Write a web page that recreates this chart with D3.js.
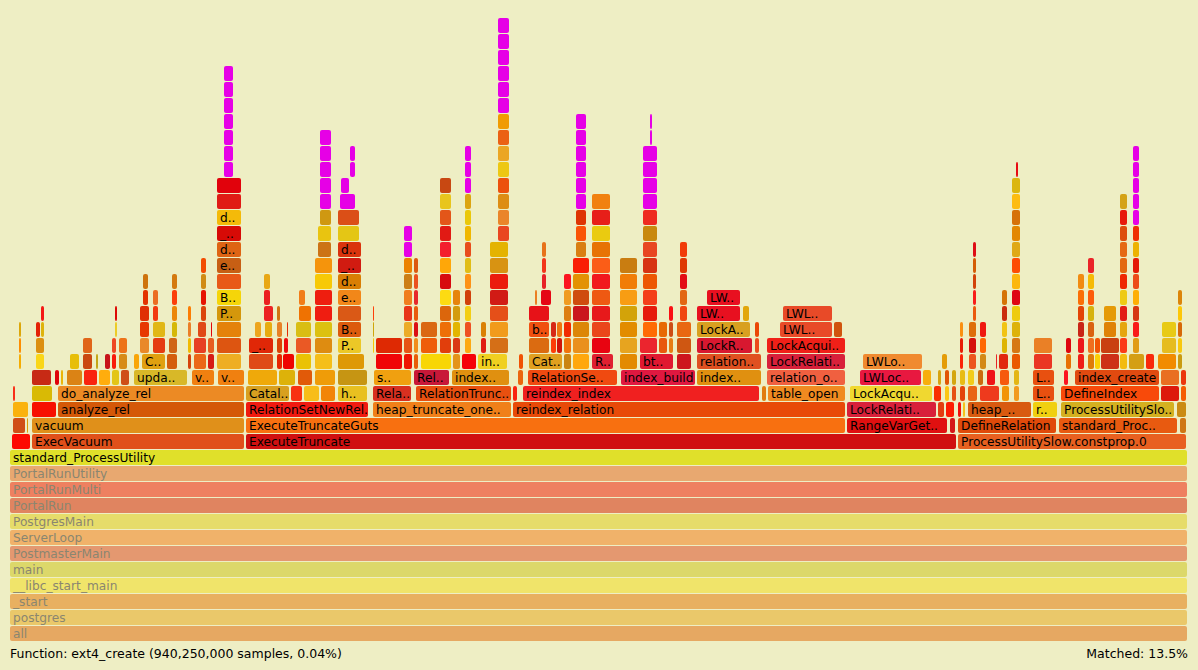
<!DOCTYPE html>
<html><head><meta charset="utf-8">
<script src="https://cdn.jsdelivr.net/npm/d3@7"></script>
<style>body{margin:0;background:#eeeec4;}svg{display:block;font-family:"DejaVu Sans",Verdana,sans-serif;}</style>
</head><body><svg id="c" width="1198" height="670"></svg>
<script>
// Base stack (depth 0..11), faded ancestors of the zoomed frame, full width
const baseNames = ["all","postgres","_start","__libc_start_main","main","PostmasterMain","ServerLoop","PostgresMain","PortalRun","PortalRunMulti","PortalRunUtility","standard_ProcessUtility"];
const baseColors = ["#e6a862","#eac86a","#e8b060","#f0e46a","#dcd86a","#e49870","#f0b26a","#e6dc6a","#e08460","#ee8060","#e8a870","#e0e02a"];
const baseSpan = [10,1188];
// Rows depth 12..16: "start-end:name" in sample offsets
const rows = {
12:"12-31|32-245:ExecVacuum|246-957:ExecuteTruncate|958-1187:ProcessUtilitySlow.constprop.0",
13:"13-26|27-29|32-245:vacuum|246-846:ExecuteTruncateGuts|847-948:RangeVarGet..|950-956|958-1057:DefineRelation|1059-1178:standard_Proc..|1180-1187",
14:"13-29|32-57|58-245:analyze_rel|246-369:RelationSetNewRel..|373-512:heap_truncate_one..|513-846:reindex_relation|847-937:LockRelati..|938-945|946-955|958-962|963-966|968-1032:heap_..|1033-1058:r..|1061-1175:ProcessUtilitySlo..|1177-1187",
15:"13-16|32-53|58-245:do_analyze_rel|246-290:Catal..|291-303|304-320|321-336|338-368:h..|373-412:Rela..|416-512:RelationTrunc..|513-518|523-760:reindex_index|762-767|768-846:table_open|850-933:LockAcqu..|934-942|945-950|952-957|960-966|968-978|980-1000|1002-1010|1014-1020|1033-1055:L..|1061-1160:DefineIndex|1161-1180|1181-1187",
16:"32-52|55-60|61-64|67-83|84-98|99-111|112-120|121-130|134-188:upda..|192-215:v..|218-245:v..|248-278|279-296|298-313|315-336|338-368|374-412:s..|414-450:Rel..|452-510:index..|518-524|528-618:RelationSe..|621-696:index_build|697-762:index..|767-846:relation_o..|860-922:LWLoc..|923-932|938-942|945-950|952-957|960-966|968-975|978-984|987-996|1000-1010|1014-1020|1033-1055:L..|1064-1069|1075-1160:index_create|1161-1180|1181-1187"
};
// Towers above depth 16: [start, end, depthFrom, depthTo, labels, matchedFrom]
const towers = [
[19,22,17,19],[36,45,17,18],[36,41,19,19],[41,45,19,20],[70,80,17,17],[83,93,17,18],[96,99,17,17],[105,111,17,17],[112,117,17,18],[115,118,19,20],[119,128,17,18],[134,140,17,17],[142,166,17,17,{17:"C.."}],[140,150,18,20],[143,149,21,22],[153,166,18,19],[153,159,20,21],[167,178,17,17],[169,178,18,18],[172,178,19,22],[188,192,17,20],[194,207,17,18],[198,207,19,19],[201,207,20,23],[208,215,17,18],[211,213,19,19],
[217,242,17,28,{20:"P..",21:"B..",23:"e..",24:"d..",25:"_..",26:"d.."}],[224,234,29,35,null,29],
[249,274,17,17],[249,274,18,18,{18:"_.."}],[255,262,19,19],[265,273,19,19],[264,274,20,20],[264,271,21,22],
[277,283,17,19],[277,281,20,20],[283,295,17,17],[284,289,18,18],[287,289,19,19],[296,312,17,19],[299,312,20,20],[299,306,21,21],
[315,333,17,23],[318,332,24,25],[320,332,26,31,null,27],
[338,365,17,17],[338,362,18,24,{18:"P..",19:"B..",21:"e..",22:"d..",23:"_..",24:"d.."}],[338,360,25,26],[340,356,27,27,null,27],[341,350,28,28,null,28],[350,356,29,30,null,29],
[373,375,18,20],[376,403,17,18],[404,413,17,25,null,24],[414,419,17,23],[421,452,17,17],[421,438,18,19],[440,452,18,28],[453,461,17,21],[462,477,17,17],[465,472,18,30,null,28],[478,508,17,17,{17:"in.."}],[481,487,18,19],[490,509,18,24],[498,510,25,38,null,33],[519,524,17,17],
[529,563,17,17,{17:"Cat.."}],[529,550,18,18],[529,550,19,19,{19:"b.."}],[529,550,20,20],[535,538,21,21],[541,552,21,21],[542,547,22,24],[551,557,18,19],[557,563,18,19],[564,572,17,22],[573,590,17,23],[576,587,24,32,null,27],[592,614,17,17,{17:"R.."}],[592,611,18,27],[620,638,17,23],[640,674,17,17,{17:"bt.."}],[640,658,18,18],[643,658,19,30,null,27],[650,653,31,32,null,31],[659,668,18,19],[669,674,18,20],[677,692,17,19],[680,688,20,24],
[697,762,17,17,{17:"relation.."}],[697,753,18,18,{18:"LockR.."}],[697,751,19,19,{19:"LockA.."}],[697,741,20,20,{20:"LW.."}],[707,741,21,21,{21:"LW.."}],[743,750,20,20],[755,760,18,19],
[767,846,17,17,{17:"LockRelati.."}],[767,846,18,18,{18:"LockAcqui.."}],[780,833,19,19,{19:"LWL.."}],[834,843,19,19],[783,833,20,20,{20:"LWL.."}],
[863,923,17,17,{17:"LWLo.."}],[942,948,17,17],[960,964,17,19],[969,977,17,19],[973,977,20,24],[980,987,17,19],[996,998,17,17],[999,1009,17,17],[1002,1008,18,21],[1012,1021,17,28],[1016,1019,29,29],[1034,1053,17,18],[1066,1072,17,18],[1078,1085,17,22],[1088,1095,17,23],[1095,1101,17,18],[1101,1120,17,18],[1104,1117,19,20],[1120,1128,17,27],[1129,1145,17,17],[1133,1140,18,30,null,26],[1146,1155,17,17],[1158,1177,17,17],[1162,1177,18,19],[1178,1183,17,21]
];
// colours of the named frames
const namedColors = {
"ExecVacuum":"#e0501a","vacuum":"#e0901a","analyze_rel":"#d45808","do_analyze_rel":"#ec8a24",
"ExecuteTruncate":"#d01010","ExecuteTruncateGuts":"#f87010","RelationSetNewRel..":"#f01a10",
"heap_truncate_one..":"#f0801a","reindex_relation":"#e84a08","reindex_index":"#f02020","table_open":"#f08a20",
"RangeVarGet..":"#e01010","LockRelati..":"#d8203a","ProcessUtilitySlow.constprop.0":"#e86020",
"DefineRelation":"#e04a0a","standard_Proc..":"#e85a10","heap_..":"#d85a10","r..":"#f0d010",
"ProcessUtilitySlo..":"#d4b020","DefineIndex":"#f84a0a","index_create":"#e04a10","LockAcqu..":"#f0d830",
"Catal..":"#d8a020","h..":"#e8c020","Rela..":"#d83020","RelationTrunc..":"#e85010","RelationSe..":"#f04a10",
"index_build":"#e01840","index..":"#e09010","relation_o..":"#f06040","LWLoc..":"#e81840","upda..":"#d8b828",
"s..":"#f0a010","Rel..":"#c81838","v..":"#f08010","L..":"#e85010","in..":"#f0d020","Cat..":"#e0a020",
"R..":"#e02030","bt..":"#e01830","relation..":"#e05020","LockR..":"#d81830","LockA..":"#d8a020",
"LW..":"#e81020","LWL..":"#e84a28","LockAcqui..":"#f02018","LWLo..":"#f08a30","C..":"#e0a010","b..":"#f05010"
};
const footerLeft = "Function: ext4_create (940,250,000 samples, 0.04%)";
const footerRight = "Matched: 13.5%";

const frames = [];
baseNames.forEach((n,d)=>frames.push({d, s:baseSpan[0], e:baseSpan[1], name:n, fade:d<11, col:baseColors[d]}));
Object.entries(rows).forEach(([d,str])=>{
  str.split("|").forEach(tok=>{
    const [rng,name] = tok.split(":"); const [s,e]=rng.split("-").map(Number);
    frames.push({d:+d, s, e, name:name||""});
  });
});
towers.forEach(t=>{
  const [s,e,d1,d2,lab,m] = t;
  for(let d=d1; d<=d2; d++) frames.push({d, s, e, name:(lab&&lab[d])||"", match: m!=null && d>=m});
});
function mix(str){let h=2166136261;for(let i=0;i<str.length;i++){h^=str.charCodeAt(i);h=Math.imul(h,16777619);}h^=h>>>13;h=Math.imul(h,0x5bd1e995);h^=h>>>15;return (h>>>0)/4294967296;}
function color(f){
  if(f.match) return "#e600e6";
  if(f.col) return f.col;
  if(f.name && namedColors[f.name]) return namedColors[f.name];
  const key = f.name+"|"+f.s+"|"+f.d;
  const a=mix(key), b=mix(key+"s"), c=mix(key+"l");
  return d3.hsl(a*56-4, 0.8+0.2*b, 0.42+0.12*c).formatHex();
}
const svg = d3.select("#c");
svg.append("rect").attr("width",1198).attr("height",670).attr("fill","#eeeec4");
const defs = svg.append("defs");
const x = d3.scaleLinear().domain([10,1188]).range([10,1188]);
const y = d3.scaleLinear().domain([0,1]).range([626,610]);
frames.forEach((f,i)=>{f.id="cp"+i; f.w=Math.max(1,x(f.e)-x(f.s)-1);});
defs.selectAll("clipPath").data(frames.filter(f=>f.name)).join("clipPath").attr("id",f=>f.id)
  .append("rect").attr("width",f=>f.w-1).attr("height",15);
const g = svg.selectAll("g.f").data(frames).join("g").attr("class","f")
  .attr("transform",f=>`translate(${x(f.s)},${y(f.d)})`);
g.append("rect").attr("width",f=>f.w).attr("height",15).attr("rx",2)
  .attr("fill",f=>color(f));
g.filter(f=>f.name).append("text").attr("x",3).attr("y",12).attr("font-size",12.2)
  .attr("clip-path",f=>`url(#${f.id})`)
  .attr("fill",f=>f.fade?"#8a8670":"#000").text(f=>f.name);
svg.append("text").attr("x",10).attr("y",658).attr("font-size",12.5).attr("fill","#000").text(footerLeft);
svg.append("text").attr("x",1188).attr("y",658).attr("font-size",12.5).attr("text-anchor","end").attr("fill","#000").text(footerRight);
</script></body></html>
